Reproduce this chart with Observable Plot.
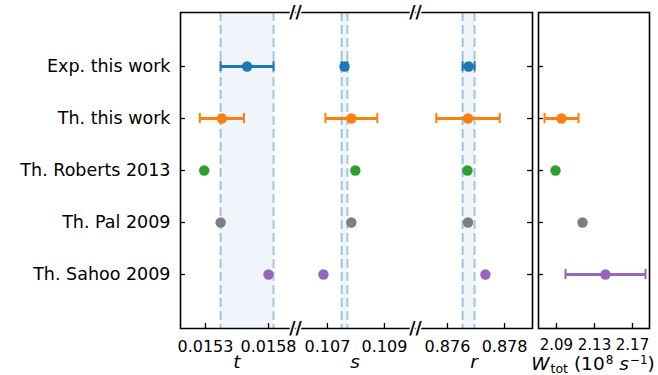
<!DOCTYPE html>
<html><head><meta charset="utf-8">
<script src="https://cdn.jsdelivr.net/npm/d3@7"></script>
<script src="https://cdn.jsdelivr.net/npm/@observablehq/plot@0.6"></script>
<style>
body{margin:0;background:#fff;}
#chart{position:relative;width:658px;height:375px;font-family:"DejaVu Sans",sans-serif;background:#fff;}
#chart svg{position:absolute;top:0;overflow:visible;}
.xlab{position:absolute;top:352px;height:22px;font-size:18.5px;font-family:"DejaVu Sans",sans-serif;white-space:nowrap;transform:translateX(-50%);line-height:20px;}
.xlab.w{top:355px;line-height:18px;}
.xlab i{font-style:italic;}
.xlab sub{font-size:12.5px;vertical-align:-3px;line-height:0;margin-left:1px;}
.xlab sup{font-size:12px;vertical-align:6px;line-height:0;margin-left:1px;}
</style></head><body><div id="chart"></div>
<script>
const labels = ["Exp. this work", "Th. this work", "Th. Roberts 2013", "Th. Pal 2009", "Th. Sahoo 2009"];
const colors = ["#1f77b4", "#ff7f0e", "#2ca02c", "#7f7f7f", "#9467bd"];
const tVal = [0.01563, 0.01543, 0.01529, 0.01542, 0.01580];
const tErr = [0.00021, 0.000175, null, null, null];
const sVal = [0.10760, 0.10784, 0.10798, 0.10784, 0.10686];
const sErr = [0.00010, 0.00091, null, null, null];
const rVal = [0.87674, 0.87672, 0.87670, 0.87672, 0.87733];
const rErr = [0.00021, 0.00111, null, null, null];
const wVal = [null, 2.0953, 2.0890, 2.1174, 2.1416];
const wErr = [null, 0.0179, null, null, 0.0421];
const tTicks = [0.0153, 0.0158];
const sTicks = [0.107, 0.109];
const rTicks = [0.876, 0.878];
const wTicks = [2.09, 2.13, 2.17];

const H = 375, MT = 12, MB = 47;
const panels = [
  {vals: tVal, errs: tErr, domain: [0.015102, 0.016014], ticks: tTicks, dec: 4, left: 0, width: 295, ml: 180, band: true, edges: "tlb", yAxis: true, brk: false, fs: 16, tp: 12},
  {vals: sVal, errs: sErr, domain: [0.10588, 0.11009], ticks: sTicks, dec: 3, left: 295, width: 120, ml: 0, band: true, edges: "tb", brk: true, fs: 16, tp: 12},
  {vals: rVal, errs: rErr, domain: [0.87488, 0.87898], ticks: rTicks, dec: 3, left: 415, width: 117, ml: 0, band: true, edges: "trb", rightTicks: true, brk: true, fs: 16, tp: 12},
  {vals: wVal, errs: wErr, domain: [2.0711, 2.1879], ticks: wTicks, dec: 2, left: 538, width: 111, ml: 0, band: false, edges: "trbl", brk: false, fs: 15, tp: 11}
];

const chart = document.getElementById("chart");
for (const p of panels) {
  const rows = labels.map((label, i) => ({label, color: colors[i], v: p.vals[i], e: p.errs[i]}));
  const pts = rows.filter(d => d.v != null);
  const errRows = pts.filter(d => d.e != null);
  const exp = rows[0];
  const w = p.width - p.ml, h = H - MT - MB;
  const step = h / 6;
  const capInset = step / 2 - 5.5;
  let dash;
  if (p.edges === "tlb") dash = `${w},${h},${w + h}`;
  else if (p.edges === "tb") dash = `${w},${h}`;
  else if (p.edges === "trb") dash = `${2 * w + h},${h}`;
  else dash = null;
  const marks = [];
  if (p.band && exp.v != null) {
    marks.push(Plot.rect([exp], {x1: d => d.v - d.e, x2: d => d.v + d.e, fill: "#1f77b4", fillOpacity: 0.07}));
    marks.push(Plot.ruleX([exp.v - exp.e, exp.v + exp.e], {stroke: "#1f77b4", strokeOpacity: 0.4, strokeWidth: 2, strokeDasharray: "9,4"}));
  }
  marks.push(Plot.frame({stroke: "#000", strokeWidth: 1.6, strokeDasharray: dash}));
  marks.push(Plot.tickX(p.ticks, {x: d => d, stroke: "#000", strokeWidth: 1.3, insetTop: h - 5}));
  if (p.yAxis || p.edges === "trbl") marks.push(Plot.ruleY(labels, {y: d => d, stroke: "#000", strokeWidth: 1.3, insetRight: w - 5}));
  if (p.rightTicks) marks.push(Plot.ruleY(labels, {y: d => d, stroke: "#000", strokeWidth: 1.3, insetLeft: w - 5}));
  marks.push(Plot.ruleY(errRows, {y: "label", x1: d => d.v - d.e, x2: d => d.v + d.e, stroke: "color", strokeWidth: 3}));
  marks.push(Plot.tickX(errRows, {x: d => d.v - d.e, y: "label", stroke: "color", strokeWidth: 2, insetTop: capInset, insetBottom: capInset}));
  marks.push(Plot.tickX(errRows, {x: d => d.v + d.e, y: "label", stroke: "color", strokeWidth: 2, insetTop: capInset, insetBottom: capInset}));
  marks.push(Plot.dot(pts, {x: "v", y: "label", fill: "color", r: 5.2}));
  if (p.brk) {
    for (const fa of ["top-left", "bottom-left"]) {
      marks.push(Plot.text(["//"], {frameAnchor: fa, text: d => d, fontSize: 17, fontWeight: "bold", fill: "#000", stroke: "#fff", strokeWidth: 3, paintOrder: "stroke", textAnchor: "middle", lineAnchor: "middle"}));
    }
  }
  if (p.yAxis) {
    marks.push(Plot.axisY({tickSize: 0, tickPadding: 10, fontSize: 17.5, label: null}));
  }
  const svg = Plot.plot({
    width: p.width, height: H,
    marginLeft: p.ml, marginRight: 0, marginTop: MT, marginBottom: MB,
    style: {fontFamily: "DejaVu Sans, sans-serif", fontSize: p.fs + "px", background: "transparent", color: "#000", overflow: "visible"},
    color: {type: "identity"},
    x: {domain: p.domain, ticks: p.ticks, tickFormat: d => d.toFixed(p.dec), tickSize: 0, tickPadding: p.tp, label: null},
    y: {type: "band", domain: labels, paddingInner: 0, paddingOuter: 0.5, axis: null, label: null},
    marks
  });
  svg.style.left = p.left + "px";
  chart.appendChild(svg);
}
const xlabs = [
  {x: 237, html: "<i>t</i>", cls: ""},
  {x: 355, html: "<i>s</i>", cls: ""},
  {x: 474, html: "<i>r</i>", cls: ""},
  {x: 593, html: "<i>W</i><sub>tot</sub> (10<sup>8</sup> <i>s</i><sup>−1</sup>)", cls: "w"}
];
for (const l of xlabs) {
  const d = document.createElement("div");
  d.className = "xlab " + l.cls;
  d.style.left = l.x + "px";
  d.innerHTML = l.html;
  chart.appendChild(d);
}
</script></body></html>
